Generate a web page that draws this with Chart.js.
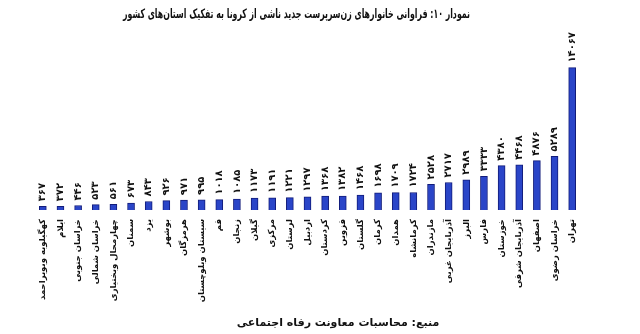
<!DOCTYPE html>
<html>
<head>
<meta charset="utf-8">
<script src="https://cdn.jsdelivr.net/npm/chart.js@4"></script>
<style>
  body { margin: 0; background: #fff; }
  #wrap { width: 640px; height: 334px; }
</style>
</head>
<body>
<div id="wrap"><canvas id="BarChart"></canvas></div>
<script>
// provinces, left to right
const provinces = [
    "کهگیلویه وبویراحمد", "ایلام", "خراسان جنوبی", "خراسان شمالی", "چهارمحال وبختیاری",
    "سمنان", "یزد", "بوشهر", "هرمزگان", "سیستان وبلوچستان",
    "قم", "زنجان", "گیلان", "مرکزی", "لرستان",
    "اردبیل", "کردستان", "قزوین", "گلستان", "کرمان",
    "همدان", "کرمانشاه", "مازندران", "آذربایجان غربی", "البرز",
    "فارس", "خوزستان", "آذربایجان شرقی", "اصفهان", "خراسان رضوی", "تهران"
];
const households = [
    367, 372, 446, 523, 561,
    673, 843, 926, 971, 995,
    1018, 1085, 1173, 1191, 1221,
    1297, 1368, 1382, 1468, 1698,
    1709, 1724, 2528, 2717, 2989,
    3333, 4380, 4468, 4876, 5289, 14067
];
const titleText = "نمودار ۱۰: فراوانی خانوارهای زن‌سرپرست جدید ناشی از کرونا به تفکیک استان‌های کشور";
const sourceText = "منبع: محاسبات معاونت رفاه اجتماعی";

function faDigits(n) {
    return String(n).replace(/\d/g, d => "۰۱۲۳۴۵۶۷۸۹"[d]);
}

// value labels above the bars + title and source
const textPlugin = {
    id: "texts",
    afterDatasetsDraw(chart) {
        const ctx = chart.ctx;
        const meta = chart.getDatasetMeta(0);
        ctx.save();
        ctx.fillStyle = "#111";
        ctx.font = "bold 10px 'DejaVu Sans'";
        ctx.textAlign = "left";
        ctx.textBaseline = "middle";
        meta.data.forEach((bar, i) => {
            ctx.save();
            ctx.translate(bar.x, bar.y - 5);
            ctx.rotate(-Math.PI / 2);
            ctx.fillText(faDigits(households[i]), 0, 0);
            ctx.restore();
        });
        ctx.restore();
    },
    afterDraw(chart) {
        const ctx = chart.ctx;
        ctx.save();
        ctx.fillStyle = "#111";
        ctx.textBaseline = "middle";
        ctx.textAlign = "right";
        ctx.font = "bold 13px 'DejaVu Sans'";
        ctx.fillText(titleText, 470, 15, 347);
        ctx.textAlign = "center";
        ctx.font = "bold 11px 'DejaVu Sans'";
        ctx.fillText(sourceText, 338, 323, 220);
        ctx.restore();
    }
};

const config = {
    type: "bar",
    data: {
        labels: provinces,
        datasets: [{
            data: households,
            backgroundColor: "#2a45c8",
            borderColor: "#121c7a",
            borderWidth: 1,
            barThickness: 7
        }]
    },
    options: {
        responsive: false,
        animation: false,
        devicePixelRatio: 1,
        layout: { padding: { top: 48, left: 34, right: 59, bottom: 0 } },
        plugins: {
            legend: { display: false },
            tooltip: { enabled: false }
        },
        scales: {
            x: {
                grid: { display: false },
                border: { display: false },
                ticks: {
                    autoSkip: false,
                    minRotation: 90,
                    maxRotation: 90,
                    padding: 1,
                    color: "#111",
                    font: { family: "'DejaVu Sans'", size: 8.5, weight: "bold" }
                },
                afterFit(scale) { scale.height = 124; }
            },
            y: {
                display: false,
                min: 0,
                max: 16000
            }
        }
    },
    plugins: [textPlugin]
};

const canvasElement = document.getElementById("BarChart");
canvasElement.width = 640;
canvasElement.height = 334;
new Chart(canvasElement, config);
</script>
</body>
</html>
